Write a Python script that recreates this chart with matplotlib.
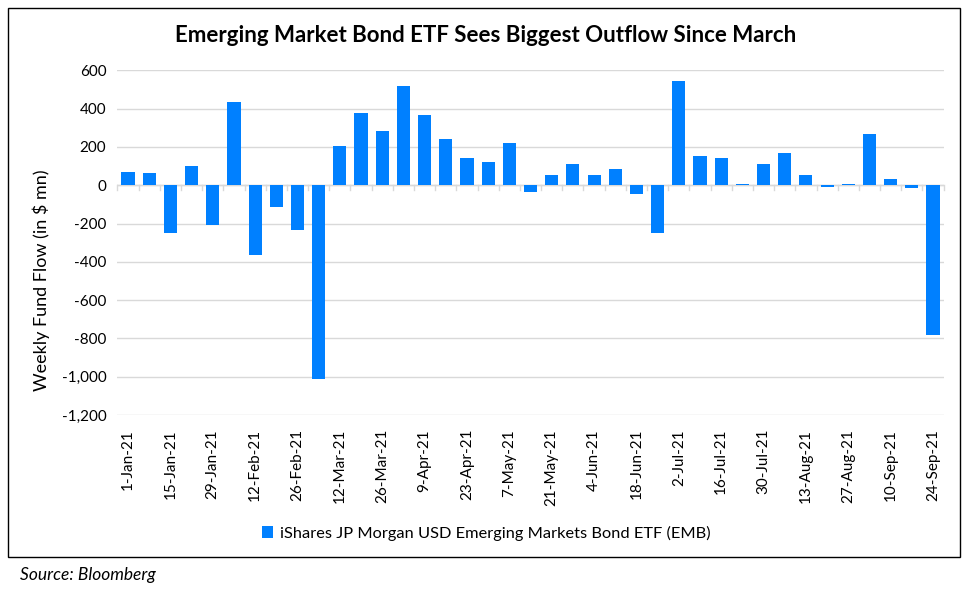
import numpy as np
import pandas as pd
import matplotlib
matplotlib.use("Agg")
import matplotlib.pyplot as plt
from matplotlib.patches import Rectangle
from matplotlib.ticker import FuncFormatter

plt.rcParams['font.family'] = ['Lato', 'DejaVu Sans']

weeks = pd.date_range("2021-01-01", periods=39, freq="7D")
flows = [70, 65, -250, 102, -208, 433, -366, -113, -234, -1013,
         205, 377, 283, 518, 367, 242, 143, 122, 221, -35,
         54, 111, 54, 85, -45, -249, 544, 153, 143, 7,
         111, 169, 54, -9, 7, 268, 33, -14, -781]
labels = [f"{d.day}-{d.strftime('%b')}-{d.strftime('%y')}" for d in weeks]

fig = plt.figure(figsize=(9.72, 5.90), dpi=100)
ax = fig.add_axes([0.1208, 0.2966, 0.85, 0.5842])

x = np.arange(len(flows))
ax.bar(x, flows, width=0.62, color='#0080FF', zorder=3,
       label='iShares JP Morgan USD Emerging Markets Bond ETF (EMB)')

ax.set_xlim(-0.5, len(flows) - 0.5)
ax.set_ylim(-1200, 600)
ax.set_yticks(range(-1200, 601, 200))
ax.yaxis.set_major_formatter(FuncFormatter(lambda v, p: f"{int(v):,}"))
ax.grid(axis='y', color='#d9d9d9', linewidth=1, zorder=0)
for s in ax.spines.values():
    s.set_visible(False)
ax.tick_params(axis='y', length=0, labelsize=11, pad=8)

# category labels every other week
ax.set_xticks(x[::2])
ax.set_xticklabels(labels[::2], rotation=90, fontsize=11)
ax.tick_params(axis='x', length=0, pad=10)
# zero line with boundary tick marks
ax.axhline(0, color='#d9d9d9', linewidth=1, zorder=2)
for b in np.arange(-0.5, len(flows), 1):
    ax.plot([b, b], [0, -25], color='#d9d9d9', linewidth=1, zorder=2, clip_on=False)

ax.set_ylabel('Weekly Fund Flow (in $ mn)', fontsize=13)
ax.yaxis.set_label_coords(-0.082, 0.392)

fig.text(0.5, 0.94, 'Emerging Market Bond ETF Sees Biggest Outflow Since March',
         ha='center', va='center', fontsize=16, fontweight='bold')

ax.legend(loc='center', bbox_to_anchor=(0.5, 0.096), bbox_transform=fig.transFigure,
          frameon=False, fontsize=11.8, handlelength=0.7, handleheight=0.7,
          handletextpad=0.4)

fig.patches.append(Rectangle((8 / 972, 1 - 557 / 590), 952 / 972, 549 / 590,
                             transform=fig.transFigure, fill=False,
                             edgecolor='black', linewidth=1))
fig.text(20 / 972, 1 - 575 / 590, 'Source: Bloomberg', ha='left', va='center',
         fontsize=12.5, style='italic')

fig.savefig('out.png', dpi=100)
